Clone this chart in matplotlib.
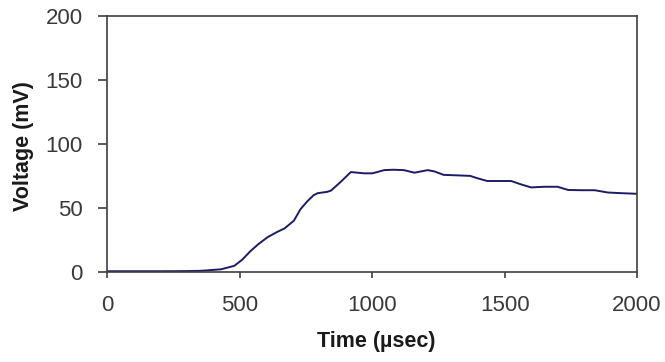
import matplotlib
matplotlib.use("Agg")
import matplotlib.pyplot as plt

time_us = [0, 100, 200, 300, 350, 380, 430, 480, 510, 540, 570, 605, 640, 670, 705, 730,
           755, 780, 795, 830, 845, 880, 900, 920, 945, 970, 1000, 1020, 1045, 1080, 1120,
           1160, 1185, 1210, 1235, 1270, 1310, 1370, 1400, 1435, 1480, 1525, 1560, 1600,
           1650, 1700, 1740, 1790, 1840, 1890, 1940, 2000]
voltage_mv = [0.5, 0.5, 0.5, 0.6, 0.8, 1.2, 2.0, 4.7, 9.5, 16.0, 21.5, 27.0, 31.0, 34.0, 40.0, 49.0,
              55.0, 60.0, 61.5, 62.5, 63.5, 70.0, 74.0, 78.0, 77.5, 77.0, 77.0, 78.0, 79.5, 79.8, 79.5,
              77.5, 78.5, 79.5, 78.5, 75.8, 75.5, 75.0, 73.0, 71.0, 71.0, 71.0, 68.5, 66.0,
              66.5, 66.5, 64.0, 63.8, 63.8, 62.0, 61.5, 61.0]

x_ticks = [0, 500, 1000, 1500, 2000]
y_ticks = [0, 50, 100, 150, 200]

fig = plt.figure(figsize=(6.65, 3.62), dpi=100)
ax = fig.add_axes([0.161, 0.249, 0.797, 0.707])
ax.plot(time_us, voltage_mv, color="#1c1c64", lw=1.4)

ax.set_xlim(0, 2000)
ax.set_ylim(0, 200)
ax.set_xticks(x_ticks)
ax.set_yticks(y_ticks)
for s in ["left", "bottom", "top", "right"]:
    ax.spines[s].set_color("#404040")
    ax.spines[s].set_linewidth(1.2)
ax.tick_params(axis="both", direction="out", width=1.2, color="#404040",
               labelcolor="#3a3a3a", labelsize=16)
ax.tick_params(axis="y", length=6.5, pad=11)
ax.tick_params(axis="x", length=4.5, pad=12)
for lab in ax.get_xticklabels() + ax.get_yticklabels():
    lab.set_family("Liberation Sans")

fig.text(376 / 665, 1 - 342 / 362, "Time (\u00b5sec)", fontsize=15.5, fontweight="bold",
         family="Liberation Sans", color="#1a1a1a", ha="center", va="center")
fig.text(23 / 665, 1 - 146 / 362, "Voltage (mV)", fontsize=15.5, fontweight="bold",
         family="Liberation Sans", color="#1a1a1a", ha="center", va="center", rotation=90)
ax.set_facecolor("white")
fig.patch.set_facecolor("white")
fig.savefig("out.png", dpi=100)
